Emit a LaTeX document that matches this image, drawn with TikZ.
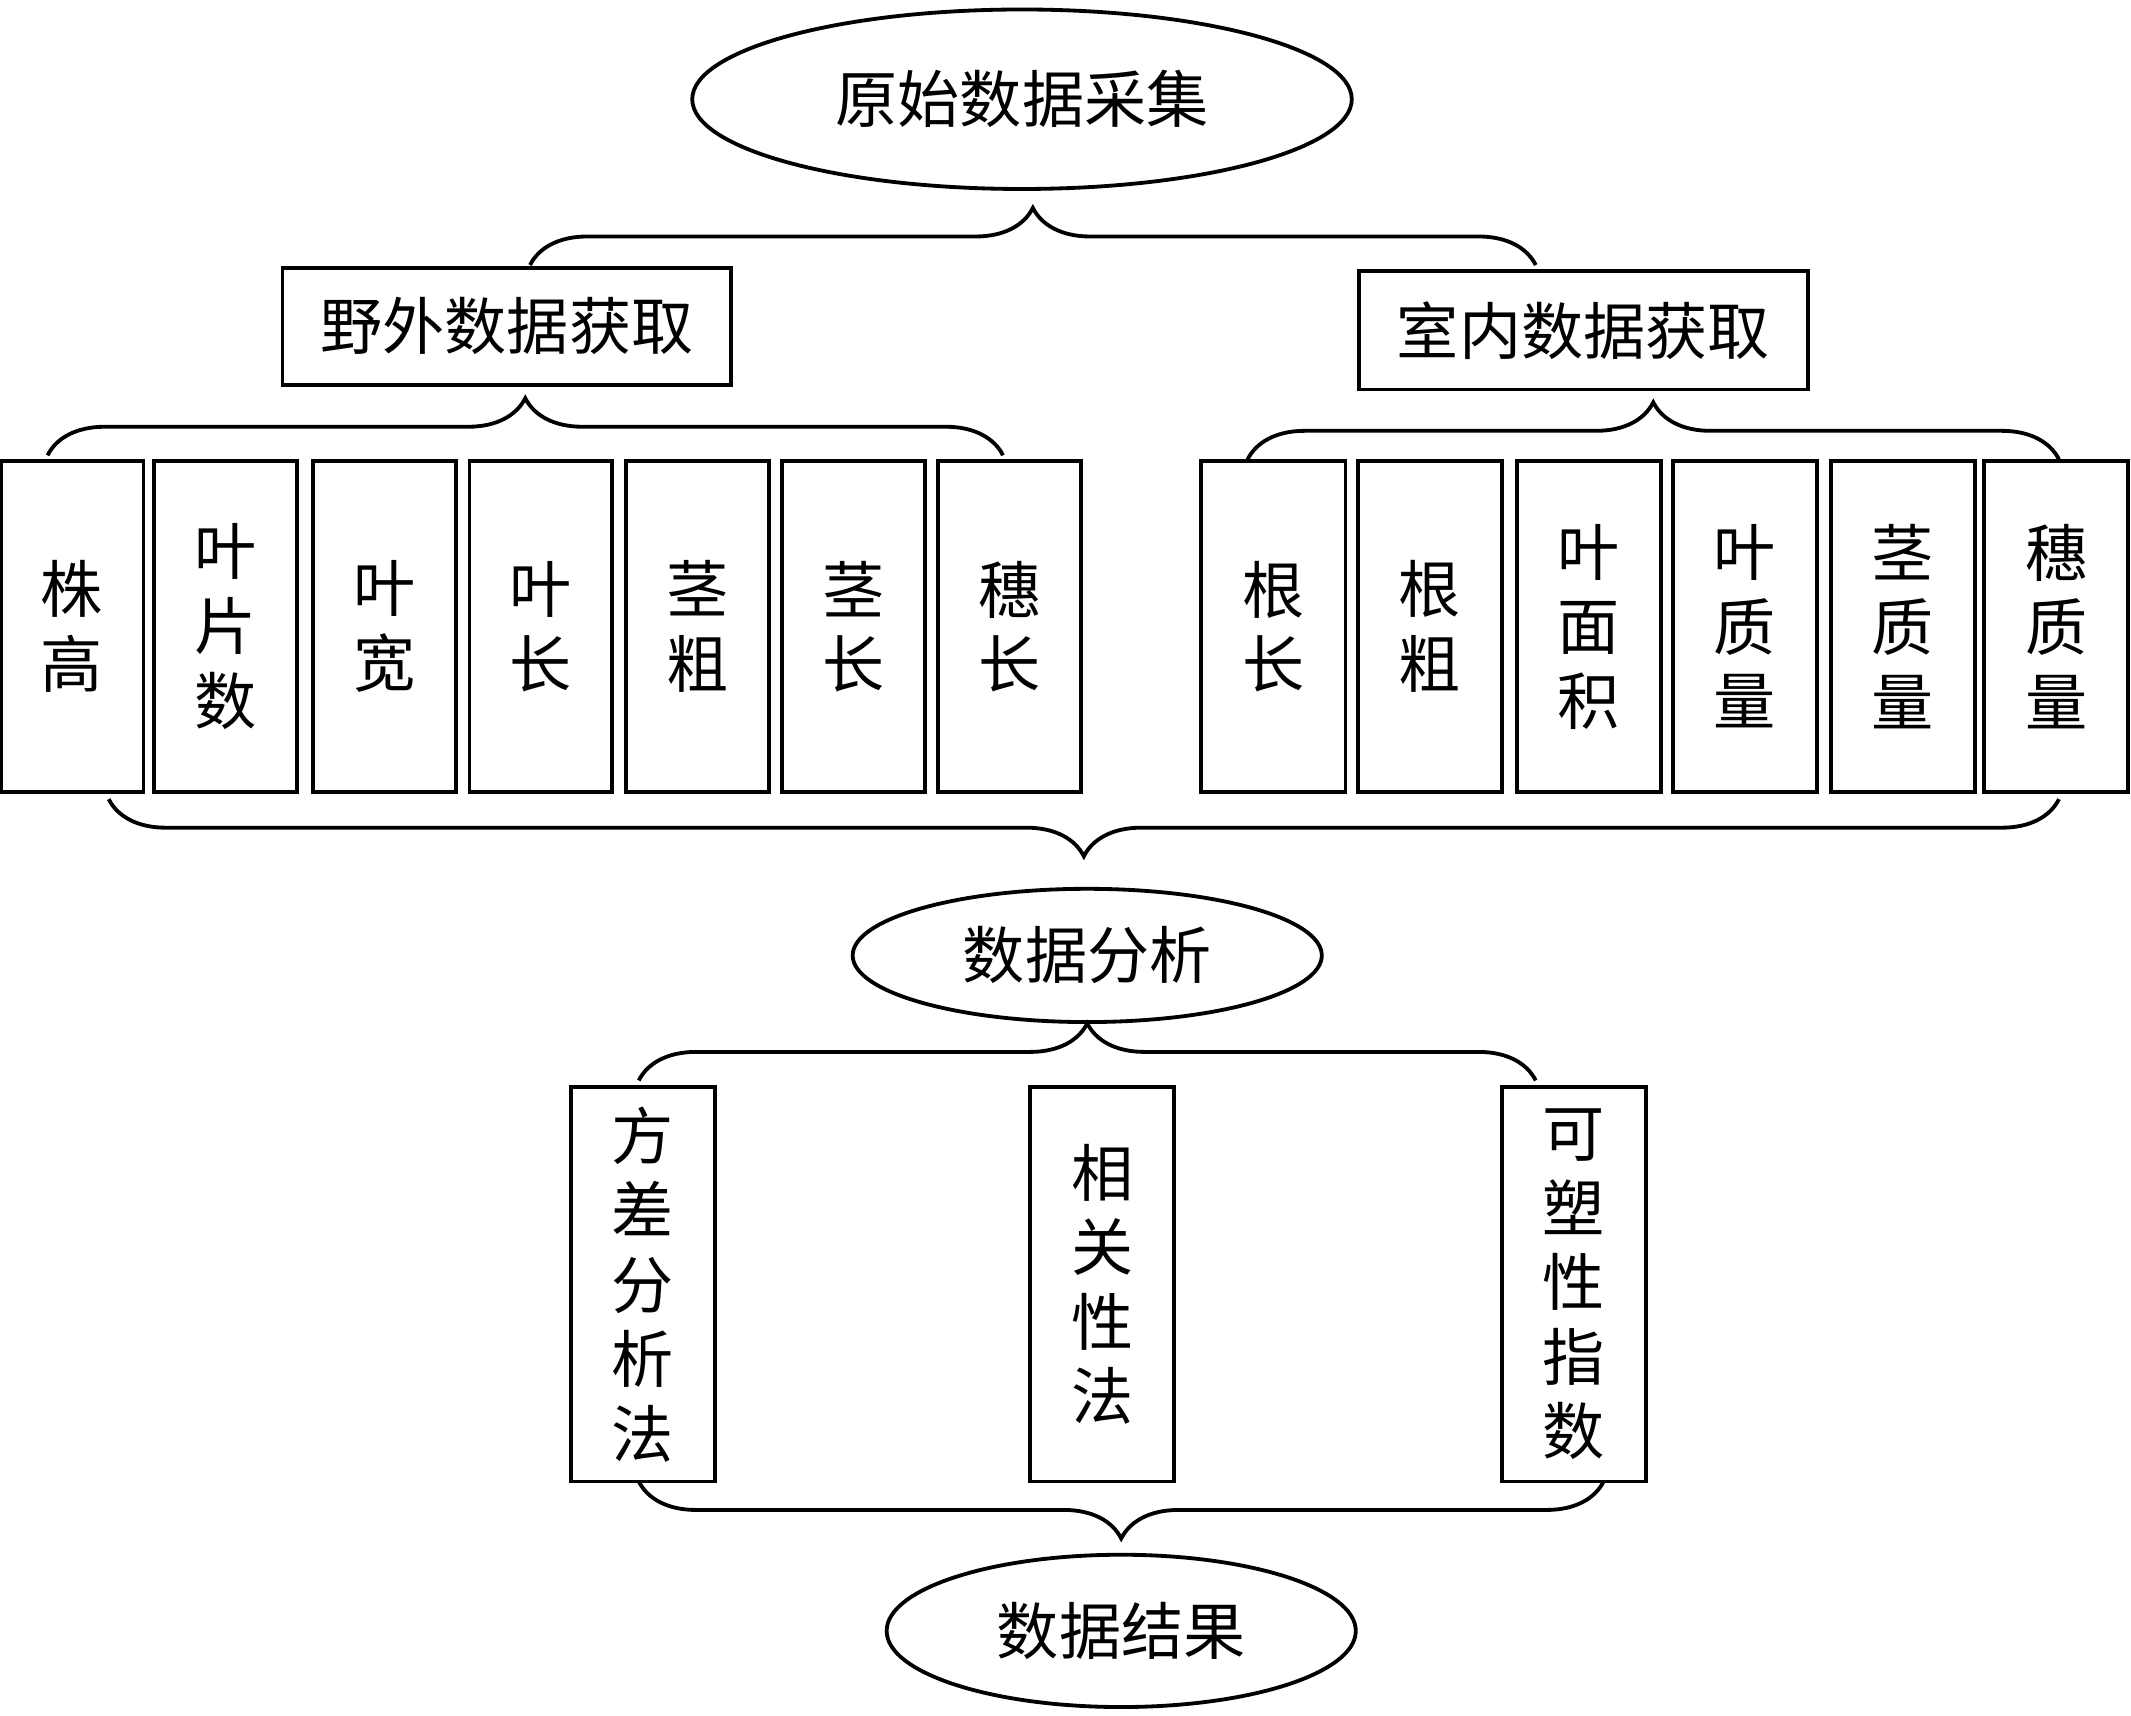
\documentclass[tikz,border=0pt]{standalone}
\usepackage{fontspec}
\newfontfamily\cjk{Noto Sans CJK SC}
\usetikzlibrary{shapes.geometric,decorations.pathreplacing}
\begin{document}
\begin{tikzpicture}[
    x=0.01cm, y=-0.01cm,
    every node/.style={font=\cjk\fontsize{13}{15.6}\selectfont, draw, thick, align=center},
    oval/.style={ellipse, inner sep=0pt},
    item/.style={minimum width=1.05cm, minimum height=2.43cm, inner sep=0pt},
    method/.style={minimum width=1.06cm, minimum height=2.9cm, inner sep=0pt},
    brace/.style={decorate, thick, decoration={brace, amplitude=0.42cm}},
  ]
    \useasboundingbox (0,0) rectangle (1568,1262);
    \node[oval, minimum width=4.85cm, minimum height=1.32cm] (raw) at (752,73) {原始数据采集};
    \node[minimum width=3.3cm, minimum height=0.86cm] (field) at (373,240) {野外数据获取};
    \node[minimum width=3.3cm, minimum height=0.87cm] (lab) at (1165,243) {室内数据获取};
    % field traits
    \foreach \x/\t [count=\i] in {53/株\\高, 166/叶\\片\\数, 283/叶\\宽, 398/叶\\长,
                                  513/茎\\粗, 628/茎\\长, 743/穗\\长}
      \node[item] (f\i) at (\x,461) {\t};
    % lab traits
    \foreach \x/\t [count=\i] in {937/根\\长, 1052/根\\粗, 1169/叶\\面\\积, 1284/叶\\质\\量,
                                  1400/茎\\质\\量, 1513/穗\\质\\量}
      \node[item, minimum width=1.06cm] (l\i) at (\x,461) {\t};
    \node[oval, minimum width=3.45cm, minimum height=0.98cm] (ana) at (800,703) {数据分析};
    \node[method] (m1) at (473,945) {方\\差\\分\\析\\法};
    \node[method] (m2) at (811,945) {相\\关\\性\\法};
    \node[method] (m3) at (1158,945) {可\\塑\\性\\指\\数};
    \node[oval, minimum width=3.45cm, minimum height=1.12cm] (res) at (825,1200) {数据结果};
    % braces
    \coordinate (b1l) at (390,195);  \coordinate (b1r) at (1130,195);
    \coordinate (b2l) at (35,335);   \coordinate (b2r) at (738,335);
    \coordinate (b3l) at (918,338);  \coordinate (b3r) at (1515,338);
    \coordinate (b4l) at (80,588);   \coordinate (b4r) at (1515,588);
    \coordinate (b5l) at (470,795);  \coordinate (b5r) at (1130,795);
    \coordinate (b6l) at (470,1090); \coordinate (b6r) at (1180,1090);
    \draw[brace] (b1l) -- (b1r);
    \draw[brace] (b2l) -- (b2r);
    \draw[brace] (b3l) -- (b3r);
    \draw[brace, decoration={mirror, aspect=0.5}] (b4l) -- (b4r);
    \draw[brace] (b5l) -- (b5r);
    \draw[brace, decoration={mirror}] (b6l) -- (b6r);
\end{tikzpicture}
\end{document}
